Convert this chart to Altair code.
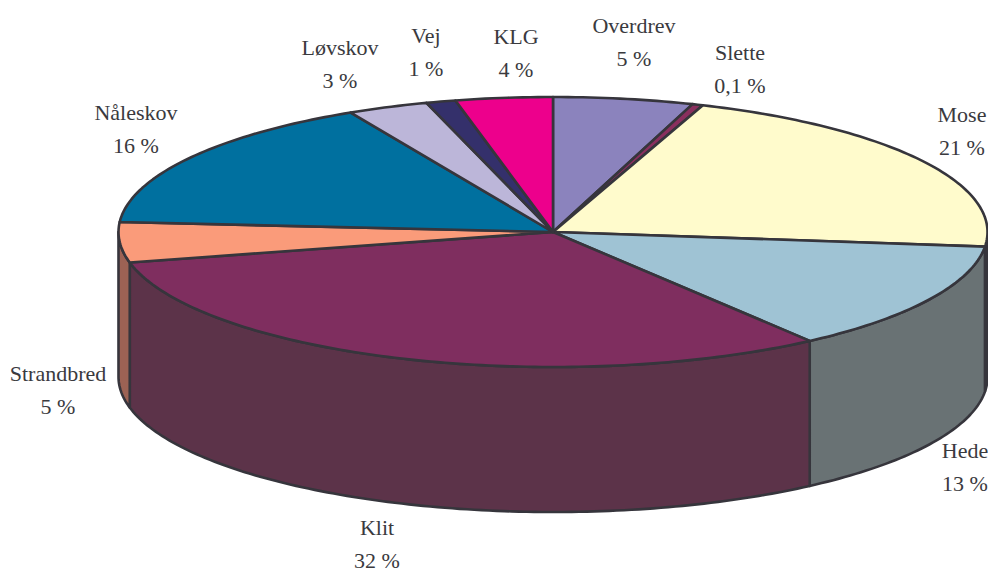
import math
import altair as alt

# Slice data
categories = ["Overdrev", "Slette", "Mose", "Hede", "Klit", "Strandbred", "Nåleskov", "Løvskov", "Vej", "KLG"]
labels = ["5 %", "0,1 %", "21 %", "13 %", "32 %", "5 %", "16 %", "3 %", "1 %", "4 %"]
drawn_shares = [5.2, 0.4, 21.1, 13.2, 31.4, 4.8, 16.1, 3.0, 1.1, 3.6]

# Styling and layout
top_colors = ["#8b83bd", "#8a2f5e", "#fffbcc", "#9fc3d4", "#7f2e5f", "#fa9b7a", "#00709f", "#bcb6d9", "#34306b", "#ed008c"]
wall_colors = ["#66628a", "#66284a", "#98967c", "#697274", "#5c3349", "#9c6254", "#00506f", "#80809a", "#242050", "#a00060"]
label_x = [634, 740, 962, 965, 377, 58, 136, 340, 426, 516]
label_y = [26, 53, 115, 451, 528, 374, 113, 48, 36, 37]
LINE_GAP = 32.5
MARGIN = 8
W, H = 980, 563
CX, CY, RX, RY, DEPTH = 553 - MARGIN, 232 - MARGIN, 434.5, 135, 145


def point(deg, dy=0):
    t = math.radians(deg)
    return [CX + RX * math.sin(t), CY - RY * math.cos(t) + dy]


def arc(a, b, dy=0):
    n = max(2, int(abs(b - a)) + 2)
    return [point(a + (b - a) * i / (n - 1), dy) for i in range(n)]


def feature(ring, fill):
    return {
        "type": "Feature",
        "properties": {"fill": fill},
        "geometry": {"type": "Polygon", "coordinates": [ring + [ring[0]]]},
    }


total = sum(drawn_shares)
edges = [0.0]
for s in drawn_shares:
    edges.append(edges[-1] + s / total * 360)

walls, tops = [], []
for i in range(len(categories)):
    a, b = edges[i], edges[i + 1]
    lo, hi = max(a, 90), min(b, 270)
    if lo < hi:
        walls.append(feature(arc(lo, hi) + arc(hi, lo, DEPTH), wall_colors[i]))
    tops.append(feature([[CX, CY]] + arc(a, b), top_colors[i]))

geo = alt.InlineData(
    values={"type": "FeatureCollection", "features": walls + tops},
    format=alt.DataFormat(property="features", type="json"),
)

pie = (
    alt.Chart(geo)
    .mark_geoshape(stroke="#36353c", strokeWidth=2.6, strokeJoin="round")
    .encode(fill=alt.Fill("properties.fill:N", scale=None))
    .project(type="identity", scale=1, translate=[0, 0])
)

rows = []
for c, l, x, y in zip(categories, labels, label_x, label_y):
    rows.append({"text": c, "x": x - MARGIN, "y": y - MARGIN})
    rows.append({"text": l, "x": x - MARGIN, "y": y - MARGIN + LINE_GAP})

text = (
    alt.Chart(alt.Data(values=rows))
    .mark_text(font="Liberation Serif", fontSize=22, color="#3a3a3e", align="center", baseline="middle")
    .encode(
        x=alt.X("x:Q", scale=alt.Scale(domain=[0, W], range=[0, W]), axis=None),
        y=alt.Y("y:Q", scale=alt.Scale(domain=[0, H], range=[0, H]), axis=None),
        text="text:N",
    )
)

chart = (
    alt.layer(pie, text)
    .properties(width=W, height=H, padding=0, autosize=alt.AutoSizeParams(type="none"))
    .configure_view(stroke=None)
)

chart.save("out.html", embed_options={"renderer": "svg", "actions": False})
